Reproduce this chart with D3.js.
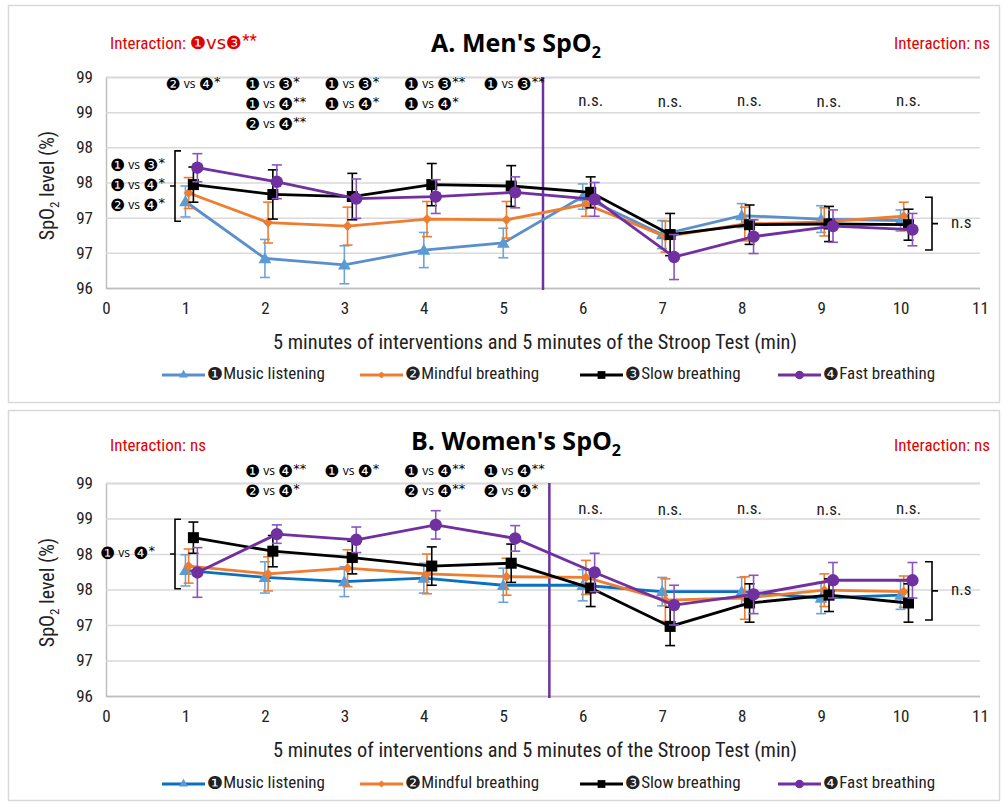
<!DOCTYPE html>
<html>
<head>
<meta charset="utf-8">
<script src="https://cdn.jsdelivr.net/npm/d3@7"></script>
<style>
  body { margin: 0; background: #fff; }
  svg text { font-family: "Liberation Sans Narrow", "Roboto Condensed", "Open Sans", sans-serif; }
</style>
</head>
<body>
<script>
// minutes on the x axis
const minutes = [1, 2, 3, 4, 5, 6, 7, 8, 9, 10];
const xTicks = [0, 1, 2, 3, 4, 5, 6, 7, 8, 9, 10, 11];
const yTicks = [96, 96.5, 97, 97.5, 98, 98.5, 99];
const seriesNames = ["❶Music listening", "❷Mindful breathing", "❸Slow breathing", "❹Fast breathing"];

// A. Men
const menMusic = [97.23, 96.42, 96.33, 96.54, 96.64, 97.30, 96.76, 97.03, 96.98, 96.96];
const menMusicErr = [0.22, 0.27, 0.27, 0.25, 0.21, 0.18, 0.20, 0.17, 0.19, 0.15];
const menMindful = [97.35, 96.93, 96.88, 96.98, 96.97, 97.19, 96.73, 96.91, 96.94, 97.02];
const menMindfulErr = [0.22, 0.29, 0.27, 0.25, 0.26, 0.17, 0.22, 0.24, 0.20, 0.20];
const menSlow = [97.47, 97.33, 97.30, 97.47, 97.45, 97.36, 96.76, 96.90, 96.91, 96.90];
const menSlowErr = [0.25, 0.35, 0.33, 0.30, 0.29, 0.22, 0.30, 0.28, 0.25, 0.22];
const menFast = [97.71, 97.51, 97.27, 97.30, 97.36, 97.26, 96.44, 96.73, 96.88, 96.83];
const menFastErr = [0.20, 0.24, 0.28, 0.24, 0.22, 0.24, 0.32, 0.24, 0.23, 0.23];

// B. Women
const womenMusic = [97.77, 97.67, 97.61, 97.66, 97.56, 97.56, 97.47, 97.47, 97.38, 97.42];
const womenMusicErr = [0.22, 0.22, 0.21, 0.21, 0.24, 0.22, 0.20, 0.20, 0.22, 0.20];
const womenMindful = [97.83, 97.72, 97.80, 97.72, 97.68, 97.67, 97.35, 97.38, 97.49, 97.47];
const womenMindfulErr = [0.24, 0.24, 0.26, 0.28, 0.26, 0.24, 0.30, 0.30, 0.23, 0.22];
const womenSlow = [98.23, 98.04, 97.95, 97.83, 97.87, 97.52, 96.98, 97.31, 97.42, 97.31];
const womenSlowErr = [0.22, 0.22, 0.23, 0.27, 0.27, 0.26, 0.27, 0.27, 0.23, 0.27];
const womenFast = [97.74, 98.28, 98.20, 98.41, 98.22, 97.74, 97.28, 97.43, 97.63, 97.63];
const womenFastErr = [0.35, 0.13, 0.18, 0.20, 0.18, 0.27, 0.28, 0.27, 0.25, 0.25];

// pairwise comparisons written over the chart
const menTopNotes = [
  [1, ["❷ vs ❹*"]],
  [2, ["❶ vs ❸*", "❶ vs ❹**", "❷ vs ❹**"]],
  [3, ["❶ vs ❸*", "❶ vs ❹*"]],
  [4, ["❶ vs ❸**", "❶ vs ❹*"]],
  [5, ["❶ vs ❸**"]],
];
const womenTopNotes = [
  [2, ["❶ vs ❹**", "❷ vs ❹*"]],
  [3, ["❶ vs ❹*"]],
  [4, ["❶ vs ❹**", "❷ vs ❹**"]],
  [5, ["❶ vs ❹**", "❷ vs ❹*"]],
];
const menLeftNotes = ["❶ vs ❸*", "❶ vs ❹*", "❷ vs ❹*"];
const womenLeftNotes = ["❶ vs ❹*"];

const svg = d3.select("body").append("svg")
  .attr("width", 1002)
  .attr("height", 802);

const colors = ["#5b9bd5", "#ed7d31", "#000000", "#7030a0"];
const errColors = ["#6fa3d8", "#ed7d31", "#000000", "#8a55c0"];
const xOffsets = [0, 0.04, 0.1, 0.15];
const symbols = [d3.symbolTriangle, d3.symbolSquare, d3.symbolSquare, d3.symbolCircle];
const symbolSizes = [70, 50, 121, 120];
const symbolRotate = [0, 45, 0, 0];

// draw "❶ vs ❸**" with smaller vs and raised stars
function compText(sel, x, y, str, anchor) {
  const m = str.match(/^(\S+) vs (\S+?)(\*+)$/);
  const t = sel.append("text")
    .attr("x", x).attr("y", y)
    .attr("text-anchor", anchor || "start")
    .attr("dominant-baseline", "middle")
    .style("font-family", "'DejaVu Sans', sans-serif")
    .attr("fill", "#000");
  t.append("tspan").attr("font-size", 17).text(m[1]);
  t.append("tspan").attr("font-size", 12).attr("font-family", "'Liberation Sans Narrow', 'Open Sans', sans-serif").text(" vs ");
  t.append("tspan").attr("font-size", 17).text(m[2]);
  t.append("tspan").attr("font-size", 13).attr("dy", -3).text(m[3]);
}

function drawPanel(cfg) {
  const g = svg.append("g");

  // panel border
  g.append("rect")
    .attr("x", 8.5).attr("y", cfg.boxTop + 0.5)
    .attr("width", 991).attr("height", cfg.boxHeight)
    .attr("fill", "none")
    .attr("stroke", "#d9d9d9")
    .attr("stroke-width", 1.5);

  const x = d3.scaleLinear().domain([0, 11]).range([106, 980]);
  const y = d3.scaleLinear().domain([96, 99]).range([cfg.bottom, cfg.top]);

  // grid + y labels
  const yAxis = g.append("g")
    .attr("transform", "translate(106,0)")
    .call(d3.axisLeft(y).tickValues(yTicks).tickSize(-874).tickFormat(d => Math.round(d)));
  yAxis.select(".domain").attr("stroke", "#bfbfbf").attr("stroke-width", 1.5);
  yAxis.selectAll(".tick line").attr("stroke", d => d === 96 ? "#bfbfbf" : "#d9d9d9").attr("stroke-width", 1.5);
  yAxis.selectAll(".tick text").attr("x", -13).attr("font-size", 17).attr("fill", "#222");

  // x labels
  const xAxis = g.append("g")
    .attr("transform", `translate(0,${cfg.bottom})`)
    .call(d3.axisBottom(x).tickValues(xTicks).tickSize(0));
  xAxis.select(".domain").remove();
  xAxis.selectAll(".tick text").attr("y", 14).attr("font-size", 17).attr("fill", "#222");

  // y title
  const yt = g.append("text")
    .attr("transform", `translate(54,${(cfg.top + cfg.bottom) / 2 + 3}) rotate(-90)`)
    .attr("text-anchor", "middle")
    .attr("font-size", 20)
    .attr("fill", "#222");
  yt.append("tspan").text("SpO");
  yt.append("tspan").attr("font-size", 13).attr("dy", 5).text("2");
  yt.append("tspan").attr("dy", -5).text(" level (%)");

  // x title
  g.append("text")
    .attr("x", 535).attr("y", cfg.bottom + 61)
    .attr("text-anchor", "middle")
    .attr("font-size", 21)
    .attr("textLength", 524)
    .attr("lengthAdjust", "spacingAndGlyphs")
    .attr("fill", "#222")
    .text("5 minutes of interventions and 5 minutes of the Stroop Test (min)");

  // title
  const title = g.append("text")
    .attr("x", 516).attr("y", cfg.titleY)
    .attr("text-anchor", "middle")
    .attr("font-size", 25)
    .attr("font-weight", "bold")
    .style("font-family", "'Open Sans', sans-serif")
    .attr("fill", "#000");
  title.append("tspan").text(cfg.title);
  title.append("tspan").attr("font-size", 16).attr("dy", 6).text("2");

  // interaction labels
  const il = g.append("text")
    .attr("x", 110).attr("y", cfg.interY)
    .attr("font-size", 17)
    .attr("fill", "#e00000");
  il.append("tspan").text("Interaction: ");
  if (cfg.interLeft) {
    il.append("tspan").style("font-family", "'DejaVu Sans', sans-serif").attr("font-size", 18).text(cfg.interLeft);
    il.append("tspan").attr("dy", -3).text("**");
  } else {
    il.append("tspan").text("ns");
  }
  g.append("text")
    .attr("x", 990).attr("y", cfg.interY)
    .attr("text-anchor", "end")
    .attr("font-size", 17)
    .attr("fill", "#e00000")
    .text("Interaction: ns");

  // vertical split line
  g.append("line")
    .attr("x1", x(cfg.split)).attr("x2", x(cfg.split))
    .attr("y1", cfg.top).attr("y2", cfg.bottom + 2)
    .attr("stroke", "#7030a0")
    .attr("stroke-width", 2.5);

  // series
  cfg.series.forEach((s, i) => {
    const pts = minutes.map((m, j) => ({ m: m + xOffsets[i], v: s.values[j], e: s.errs[j] }));
    const line = d3.line().x(d => x(d.m)).y(d => y(d.v));
    g.append("path")
      .datum(pts)
      .attr("d", line)
      .attr("fill", "none")
      .attr("stroke", i === 0 ? cfg.blueLine : colors[i])
      .attr("stroke-width", 2.8);

    const eb = g.append("g").attr("stroke", errColors[i]).attr("stroke-width", 1.6);
    pts.forEach(d => {
      eb.append("line").attr("x1", x(d.m)).attr("x2", x(d.m)).attr("y1", y(d.v + d.e)).attr("y2", y(d.v - d.e));
      eb.append("line").attr("x1", x(d.m) - 5).attr("x2", x(d.m) + 5).attr("y1", y(d.v + d.e)).attr("y2", y(d.v + d.e));
      eb.append("line").attr("x1", x(d.m) - 5).attr("x2", x(d.m) + 5).attr("y1", y(d.v - d.e)).attr("y2", y(d.v - d.e));
    });

    g.selectAll(null)
      .data(pts)
      .enter()
      .append("path")
      .attr("d", d3.symbol().type(symbols[i]).size(symbolSizes[i]))
      .attr("transform", d => `translate(${x(d.m)},${y(d.v) + (i === 0 ? 1 : 0)}) rotate(${symbolRotate[i]})`)
      .attr("fill", colors[i]);
  });

  // comparisons above the lines
  cfg.topNotes.forEach(([m, lines]) => {
    lines.forEach((str, k) => {
      compText(g, x(m) - 20, cfg.notesY + k * 20, str);
    });
  });

  // left bracket
  const lb = g.append("g");
  const lTop = y(cfg.leftBracket[0]), lBot = y(cfg.leftBracket[1]), lMid = (lTop + lBot) / 2;
  cfg.leftNotes.forEach((str, k) => {
    const n = cfg.leftNotes.length;
    compText(lb, cfg.leftTextX, lMid + (k - (n - 1) / 2) * 20, str);
  });
  lb.append("path")
    .attr("d", `M181,${lTop}H175V${lBot}H181M175,${lMid}H170`)
    .attr("fill", "none").attr("stroke", "#000").attr("stroke-width", 1.6);

  // right bracket
  const rTop = y(cfg.rightBracket[0]), rBot = y(cfg.rightBracket[1]), rMid = (rTop + rBot) / 2;
  g.append("path")
    .attr("d", `M925,${rTop}H932V${rBot}H925M932,${rMid}H938`)
    .attr("fill", "none").attr("stroke", "#000").attr("stroke-width", 1.6);
  g.append("text")
    .attr("x", 951).attr("y", rMid)
    .attr("dominant-baseline", "middle")
    .attr("font-size", 17)
    .attr("fill", "#222")
    .text("n.s");

  // n.s. after the split
  minutes.filter(m => m > 5).forEach((m, k) => {
    g.append("text")
      .attr("x", x(m + 0.1)).attr("y", cfg.nsY + (k % 2 ? 1 : 0))
      .attr("text-anchor", "middle")
      .attr("dominant-baseline", "middle")
      .attr("font-size", 17)
      .attr("fill", "#222")
      .text("n.s.");
  });

  // legend
  const legX = [162, 360, 580, 778];
  seriesNames.forEach((name, i) => {
    const lg = g.append("g").attr("transform", `translate(${legX[i]},${cfg.legendY})`);
    lg.append("line").attr("x1", 0).attr("x2", 43).attr("y1", 0).attr("y2", 0)
      .attr("stroke", i === 0 ? cfg.blueLine : colors[i]).attr("stroke-width", 2.8);
    lg.append("path")
      .attr("d", d3.symbol().type(symbols[i]).size(symbolSizes[i] * 0.5))
      .attr("transform", `translate(21.5,0) rotate(${symbolRotate[i]})`)
      .attr("fill", colors[i]);
    const t = lg.append("text").attr("x", 45).attr("dominant-baseline", "middle").attr("font-size", 17).attr("fill", "#222");
    t.append("tspan").style("font-family", "'DejaVu Sans', sans-serif").attr("font-size", 18).text(name.slice(0, 1));
    t.append("tspan").text(name.slice(1));
  });
}

drawPanel({
  boxTop: 5, boxHeight: 397,
  top: 77, bottom: 288,
  title: "A. Men's SpO",
  titleY: 52,
  interY: 49,
  interLeft: "❶vs❸",
  split: 5.5,
  blueLine: "#5b8fcb",
  series: [
    { values: menMusic, errs: menMusicErr },
    { values: menMindful, errs: menMindfulErr },
    { values: menSlow, errs: menSlowErr },
    { values: menFast, errs: menFastErr },
  ],
  topNotes: menTopNotes,
  notesY: 85,
  leftNotes: menLeftNotes,
  leftTextX: 110,
  leftBracket: [97.95, 96.95],
  rightBracket: [97.29, 96.54],
  nsY: 102,
  legendY: 375,
});

drawPanel({
  boxTop: 410, boxHeight: 390,
  top: 483, bottom: 696,
  title: "B. Women's SpO",
  titleY: 450,
  interY: 451,
  interLeft: null,
  split: 5.58,
  blueLine: "#0a70c0",
  series: [
    { values: womenMusic, errs: womenMusicErr },
    { values: womenMindful, errs: womenMindfulErr },
    { values: womenSlow, errs: womenSlowErr },
    { values: womenFast, errs: womenFastErr },
  ],
  topNotes: womenTopNotes,
  notesY: 472,
  leftNotes: womenLeftNotes,
  leftTextX: 100,
  leftBracket: [98.49, 97.51],
  rightBracket: [97.89, 97.07],
  nsY: 510,
  legendY: 784,
});
</script>
</body>
</html>
